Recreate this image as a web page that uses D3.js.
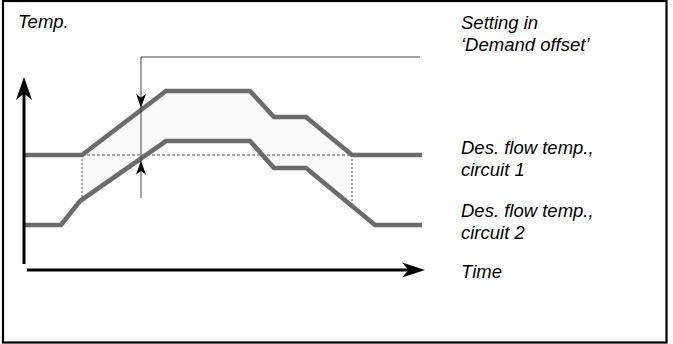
<!DOCTYPE html>
<html><head><meta charset="utf-8">
<script src="https://cdn.jsdelivr.net/npm/d3@7"></script>
<style>
html,body{margin:0;padding:0;background:#fff;}
svg{display:block;}
text{font-family:"Liberation Sans",Arial,sans-serif;font-style:italic;font-size:18.5px;fill:#000;}
</style></head>
<body>
<svg id="chart" width="673" height="344"></svg>
<script>
// ---- data (arbitrary time / temperature units) ----
const circuit1Time = [1, 58, 142, 226, 250, 282, 328, 398];
const circuit1Temp = [115, 115, 179, 179, 153, 153, 115, 115];
const circuit2Time = [1, 37, 56, 142, 226, 250, 282, 351, 398];
const circuit2Temp = [45, 45, 69, 129, 129, 102, 102, 45, 45];
const offsetStart = 58, offsetEnd = 328;      // shaded period
const baseTemp = 115;                         // dashed reference level
const markerTime = 117;                       // 'Demand offset' marker
const markerTop = 213, markerBottom = 72, markerRightTime = 396;
const axisTimeRange = [3, 401];
const axisTempRange = [6, 193];
const leftLabels = ["Temp."];
const rightLabels = [
  ["Setting in", "\u2018Demand offset\u2019"],
  ["Des. flow temp.,", "circuit 1"],
  ["Des. flow temp.,", "circuit 2"],
  ["Time"]
];

const svg = d3.select("#chart");
const x = d3.scaleLinear().domain([0, 400]).range([24, 424]);
const y = d3.scaleLinear().domain([0, 200]).range([270, 70]);

// frame
svg.append("rect").attr("x", 3).attr("y", 1).attr("width", 663.5).attr("height", 341.5)
  .attr("fill", "none").attr("stroke", "#000").attr("stroke-width", 2.2);

const c1 = circuit1Time.map((t, i) => [t, circuit1Temp[i]]);
const c2 = circuit2Time.map((t, i) => [t, circuit2Temp[i]]);
const c1f = d3.scaleLinear().domain(circuit1Time).range(circuit1Temp);
const c2f = d3.scaleLinear().domain(circuit2Time).range(circuit2Temp);

// shaded area between the curves
const upper = [[offsetStart, c1f(offsetStart)], ...c1.filter(d => d[0] > offsetStart && d[0] < offsetEnd), [offsetEnd, c1f(offsetEnd)]];
const lower = [[offsetStart, c2f(offsetStart)], ...c2.filter(d => d[0] > offsetStart && d[0] < offsetEnd), [offsetEnd, c2f(offsetEnd)]];
const poly = upper.concat(lower.slice().reverse());
svg.append("path")
  .attr("d", "M" + poly.map(d => x(d[0]) + "," + y(d[1])).join("L") + "Z")
  .attr("fill", "#f9f9f9").attr("stroke", "none");

// dashed reference
svg.append("line").attr("x1", x(offsetStart)).attr("x2", x(offsetEnd))
  .attr("y1", y(baseTemp)).attr("y2", y(baseTemp))
  .attr("stroke", "#555").attr("stroke-width", 1).attr("stroke-dasharray", "3,2");
[offsetStart, offsetEnd].forEach(t => {
  svg.append("line").attr("x1", x(t)).attr("x2", x(t))
    .attr("y1", y(baseTemp)).attr("y2", y(c2f(t)))
    .attr("stroke", "#555").attr("stroke-width", 1).attr("stroke-dasharray", "2,2");
});

// curves
const line = d3.line().x(d => x(d[0])).y(d => y(d[1]));
[c1, c2].forEach(data => {
  svg.append("path").attr("d", line(data)).attr("fill", "none")
    .attr("stroke", "#6b6b6b").attr("stroke-width", 4.6).attr("stroke-linejoin", "miter");
});

// arrowhead helper (tip at tx,ty; angle in degrees, 0 = pointing right)
function head(tx, ty, ang, L, W) {
  const p = `M0,0L${-L},${-W}L${-L * 0.72},0L${-L},${W}Z`;
  svg.append("path").attr("d", p).attr("fill", "#000")
    .attr("transform", `translate(${tx},${ty}) rotate(${ang})`);
}

// 'Demand offset' marker
svg.append("path")
  .attr("d", `M${x(markerTime)},${y(markerBottom)}L${x(markerTime)},${y(markerTop)}L${x(markerRightTime)},${y(markerTop)}`)
  .attr("fill", "none").attr("stroke", "#444").attr("stroke-width", 1);
head(x(markerTime), y(c1f(markerTime)) - 2.3, 90, 14, 5);
head(x(markerTime), y(c2f(markerTime)) + 2.3, -90, 14, 5);

// axes
svg.append("line").attr("x1", x(0)).attr("x2", x(0))
  .attr("y1", y(axisTempRange[0])).attr("y2", y(axisTempRange[1]) + 15)
  .attr("stroke", "#000").attr("stroke-width", 3);
head(x(0), y(axisTempRange[1]), -90, 23, 8);
svg.append("line").attr("x1", x(axisTimeRange[0])).attr("x2", x(axisTimeRange[1]) - 15)
  .attr("y1", y(0)).attr("y2", y(0))
  .attr("stroke", "#000").attr("stroke-width", 3);
head(x(axisTimeRange[1]), y(0), 0, 23, 7.5);

// labels
svg.append("text").attr("x", 18).attr("y", 28).text(leftLabels[0]);
const labelBase = [29, 154, 217, 278];
rightLabels.forEach((lines, i) => {
  const t = svg.append("text").attr("x", 461).attr("y", labelBase[i]);
  lines.forEach((s, j) => t.append("tspan").attr("x", 461).attr("dy", j ? 22 : 0).text(s));
});
</script>
</body></html>
